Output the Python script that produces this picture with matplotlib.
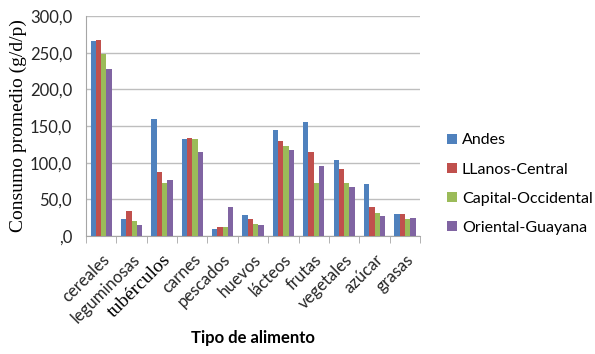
# ================= Import Libraries ==================
import numpy as np
import matplotlib
matplotlib.use("Agg")
import matplotlib.pyplot as plt
from matplotlib.ticker import FuncFormatter

# ================== Data ======================
categorias = ["cereales", "leguminosas", "tubérculos", "carnes", "pescados",
              "huevos", "lácteos", "frutas", "vegetales", "azúcar", "grasas"]
regiones = ["Andes", "LLanos-Central", "Capital-Occidental", "Oriental-Guayana"]

andes = [266, 23, 160, 132, 10, 29, 144, 156, 104, 71, 30]
llanos = [267, 34, 87, 134, 13, 23, 130, 115, 91, 40, 30]
capital = [248, 20, 73, 133, 13, 17, 123, 73, 72, 31, 23]
oriental = [228, 15, 77, 115, 39, 15, 118, 96, 67, 27, 25]

colores = ["#4F81BD", "#C0504D", "#9BBB59", "#8064A2"]
y_ticks = [0, 50, 100, 150, 200, 250, 300]

# ================== Plot ======================
sans = "Lato"
fig = plt.figure(figsize=(5.95, 3.54), dpi=100)
ax = fig.add_axes([0.1445, 0.333, 0.5615, 0.622])

x = np.arange(len(categorias))
ancho = 0.175
series = [andes, llanos, capital, oriental]
for i, (vals, nombre) in enumerate(zip(series, regiones)):
    ax.bar(x + (i - 1.5) * ancho, vals, ancho, color=colores[i], label=nombre, zorder=3)

ax.set_xlim(-0.5, len(categorias) - 0.5)
ax.set_ylim(0, 300)
ax.set_yticks(y_ticks)
ax.yaxis.set_major_formatter(FuncFormatter(lambda v, p: ",0" if v == 0 else f"{v:.1f}".replace(".", ",")))
ax.grid(axis="y", color="#BEBEBE", linewidth=1, zorder=0)

for s in ["top", "right"]:
    ax.spines[s].set_visible(False)
ax.spines["left"].set_color("#A6A6A6")
ax.spines["bottom"].set_color("#A6A6A6")
ax.tick_params(axis="y", length=0, labelsize=12, pad=10, labelcolor="#262626")

# category labels without ticks, ticks at the boundaries
ax.set_xticks(x)
ax.set_xticklabels(categorias, rotation=45, ha="right", rotation_mode="anchor", fontsize=12)
ax.tick_params(axis="x", length=0, pad=11, labelcolor="#262626")
ax.set_xticks(np.arange(-0.5, len(categorias)), minor=True)
ax.tick_params(axis="x", which="minor", length=5, color="#A6A6A6")
for lbl in ax.get_xticklabels():
    if lbl.get_text() == "tubérculos":
        lbl.set_fontfamily("Liberation Serif")
        lbl.set_fontsize(14)
        lbl.set_color("black")
    else:
        lbl.set_fontfamily(sans)
for lbl in ax.get_yticklabels():
    lbl.set_fontfamily(sans)

ax.set_ylabel("Consumo promedio (g/d/p)", fontfamily="Liberation Serif", fontsize=14, labelpad=2)
fig.text(253 / 595, 1 - 338 / 354, "Tipo de alimento", fontfamily=sans, fontweight="bold",
         fontsize=12, ha="center", va="center")

ax.legend(loc="center left", bbox_to_anchor=(1.081, 0.236), frameon=False,
          prop={"family": sans, "size": 11.5}, handlelength=0.62, handleheight=0.62,
          labelspacing=0.95, handletextpad=0.3, borderpad=0, borderaxespad=0)

plt.savefig("out.png", dpi=100)
plt.close()
